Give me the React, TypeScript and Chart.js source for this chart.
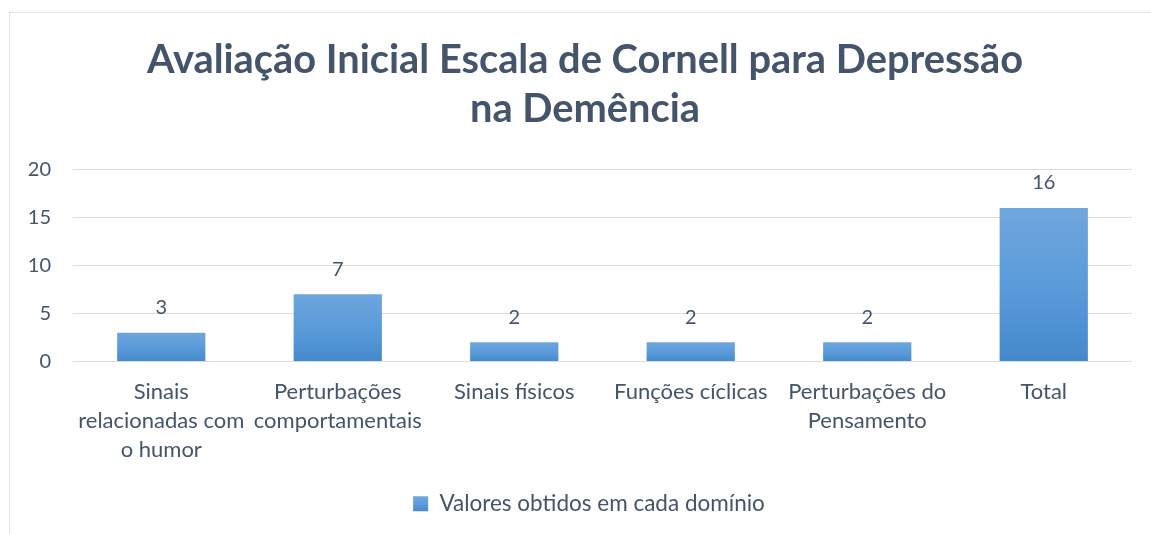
import React, { useEffect, useRef } from "react";
import { Chart, registerables } from "chart.js";

Chart.register(...registerables);

const categories: (string | string[])[] = [
  ["Sinais", "relacionadas com", "o humor"],
  ["Perturbações", "comportamentais"],
  "Sinais físicos",
  "Funções cíclicas",
  ["Perturbações do", "Pensamento"],
  "Total",
];
const seriesName = "Valores obtidos em cada domínio";
const values = [3, 7, 2, 2, 2, 16];
const titleLines = ["Avaliação Inicial Escala de Cornell para Depressão", "na Demência"];
const yMax = 20;
const yStep = 5;

const TEXT = "#44546A";
const FONT = "Lato, 'Open Sans', sans-serif";

function barGradient(c: CanvasRenderingContext2D, top: number, bottom: number) {
  const g = c.createLinearGradient(0, top, 0, bottom);
  g.addColorStop(0, "#6FA6DC");
  g.addColorStop(0.5, "#5A9BDB");
  g.addColorStop(1, "#4589CA");
  return g;
}

const valueLabels = {
  id: "valueLabels",
  afterDatasetsDraw(chart: any) {
    const c = chart.ctx;
    const meta = chart.getDatasetMeta(0);
    c.save();
    c.font = `20px ${FONT}`;
    c.fillStyle = TEXT;
    c.textAlign = "center";
    c.textBaseline = "middle";
    meta.data.forEach((el: any, i: number) => {
      c.fillText(String(chart.data.datasets[0].data[i]), el.x, el.y - 25);
    });
    c.restore();
  },
};

// centre title and legend on the whole frame rather than on the padded box
const recentre = {
  id: "recentre",
  beforeDraw(chart: any) {
    const t = chart.titleBlock;
    if (t) {
      t.left += 14;
      t.right += 14;
    }
    const l = chart.legend;
    if (l) {
      l.left += 18;
      l.right += 18;
    }
  },
};

export default function App() {
  const ref = useRef<HTMLCanvasElement | null>(null);
  useEffect(() => {
    if (!ref.current) return;
    const chart = new Chart(ref.current, {
      type: "bar",
      data: {
        labels: categories,
        datasets: [
          {
            label: seriesName,
            data: values,
            backgroundColor: (ctx: any) => {
              const ch = ctx.chart;
              if (!ch.chartArea || ctx.raw === undefined) return "#5B9BD5";
              const y = ch.scales.y;
              return barGradient(ch.ctx, y.getPixelForValue(ctx.raw), y.getPixelForValue(0));
            },
            barPercentage: 0.5,
            categoryPercentage: 1,
          },
        ],
      },
      options: {
        animation: false,
        responsive: true,
        maintainAspectRatio: false,
        layout: { padding: { left: 0, right: 19, top: 0, bottom: 9 } },
        plugins: {
          title: {
            display: true,
            text: titleLines,
            color: TEXT,
            font: { family: FONT, size: 39.8, weight: "bold", lineHeight: 1.25 },
            padding: { top: 22, bottom: 35 },
          },
          legend: {
            display: true,
            position: "bottom",
            labels: {
              color: TEXT,
              font: { family: FONT, size: 22.5 },
              boxWidth: 15,
              boxHeight: 15,
              generateLabels: (ch: any) => {
                const h = ch.height;
                return [
                  {
                    text: seriesName,
                    fillStyle: barGradient(ch.ctx, h - 37, h - 22),
                    strokeStyle: "rgba(0,0,0,0)",
                    lineWidth: 0,
                    fontColor: TEXT,
                    datasetIndex: 0,
                    hidden: false,
                  },
                ];
              },
            },
          },
          tooltip: { enabled: false },
        },
        scales: {
          x: {
            grid: { display: false },
            border: { display: false },
            ticks: {
              color: TEXT,
              font: { family: FONT, size: 22, lineHeight: 1.32 },
              maxRotation: 0,
              autoSkip: false,
              padding: 8,
            },
            afterFit: (axis: any) => {
              axis.height = 121;
            },
          },
          y: {
            min: 0,
            max: yMax,
            grid: { color: "#D9DCE1", lineWidth: 1, drawTicks: false },
            border: { display: false },
            ticks: {
              stepSize: yStep,
              color: TEXT,
              font: { family: FONT, size: 20 },
              padding: 22,
            },
            afterFit: (axis: any) => {
              axis.width = 63;
            },
          },
        },
      },
      plugins: [valueLabels, recentre],
    });
    return () => chart.destroy();
  }, []);
  return (
    <div
      style={{
        position: "fixed",
        left: 9,
        top: 12,
        width: 1142,
        height: 522,
        borderTop: "1px solid #DEE2E8",
        borderLeft: "1px solid #DEE2E8",
        boxSizing: "border-box",
      }}
    >
      <canvas ref={ref} />
    </div>
  );
}
